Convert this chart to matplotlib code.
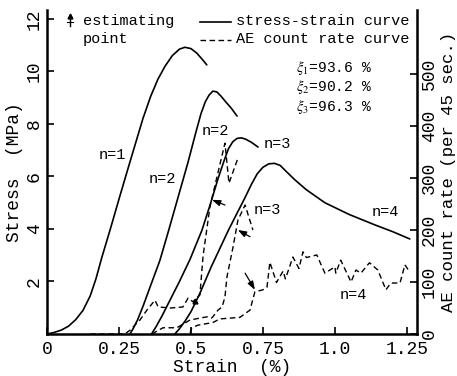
import matplotlib
matplotlib.use("Agg")
import matplotlib.pyplot as plt
from matplotlib.lines import Line2D

plt.rcParams['font.family'] = ['Liberation Mono', 'DejaVu Sans']
plt.rcParams['mathtext.fontset'] = 'stix'

# ---- data (stress-strain curves, left axis: MPa) ----
n1_strain = [0, 0.025, 0.05, 0.075, 0.10, 0.125, 0.15, 0.17, 0.19, 0.22, 0.253, 0.288, 0.333, 0.36, 0.385,
             0.41, 0.435, 0.46, 0.479, 0.50, 0.52, 0.54, 0.555]
n1_stress = [0, 0.06, 0.15, 0.3, 0.55, 0.9, 1.45, 2.1, 2.9, 4.0, 5.25, 6.55, 8.2, 9.05, 9.7,
             10.2, 10.6, 10.85, 10.92, 10.87, 10.7, 10.45, 10.25]

n2_strain = [0.288, 0.30, 0.315, 0.335, 0.36, 0.392, 0.42, 0.455, 0.49, 0.515, 0.535, 0.55, 0.563, 0.576,
             0.59, 0.605, 0.62, 0.64, 0.66]
n2_stress = [0, 0.22, 0.55, 1.1, 1.85, 2.8, 3.85, 5.2, 6.55, 7.6, 8.4, 8.85, 9.1, 9.25,
             9.22, 9.05, 8.85, 8.6, 8.3]

n3_strain = [0.363, 0.38, 0.40, 0.43, 0.46, 0.497, 0.538, 0.566, 0.595, 0.615, 0.63, 0.645, 0.66, 0.675,
             0.69, 0.71, 0.733]
n3_stress = [0, 0.3, 0.7, 1.35, 2.0, 2.85, 3.95, 4.9, 5.95, 6.6, 7.05, 7.32, 7.45, 7.47,
             7.42, 7.3, 7.12]

n4_strain = [0.444, 0.46, 0.48, 0.50, 0.531, 0.57, 0.60, 0.63, 0.66, 0.688, 0.71, 0.73, 0.75, 0.77, 0.79,
             0.81, 0.83, 0.86, 0.90, 0.965, 1.05, 1.14, 1.20, 1.26]
n4_stress = [0, 0.2, 0.5, 0.85, 1.55, 2.55, 3.25, 3.95, 4.6, 5.2, 5.7, 6.1, 6.35, 6.48, 6.5,
             6.42, 6.2, 5.88, 5.5, 5.0, 4.55, 4.15, 3.9, 3.62]

# ---- AE count rate curves (right axis: counts per 45 sec) ----
ae2_strain = [0.15, 0.27, 0.29, 0.31, 0.323, 0.347, 0.375, 0.386, 0.43, 0.472, 0.49, 0.507, 0.531, 0.542, 0.566, 0.618, 0.632, 0.663]
ae2_count = [0, 0, 8, 20, 27, 46, 65, 52, 50, 52, 69, 62, 75, 150, 245, 367, 290, 338]

ae3_strain = [0.365, 0.38, 0.403, 0.451, 0.497, 0.555, 0.573, 0.594, 0.608, 0.618, 0.625, 0.646, 0.663, 0.688, 0.715]
ae3_count = [0, 5, 12, 12, 27, 33, 31, 46, 52, 71, 110, 167, 219, 248, 200]

ae4_strain = [0.497, 0.503, 0.524, 0.576, 0.60, 0.67, 0.705, 0.722, 0.75, 0.764, 0.774, 0.797, 0.82, 0.828, 0.854,
              0.875, 0.889, 0.901, 0.937, 0.965, 1.0, 1.003, 1.02, 1.056, 1.073, 1.09, 1.12, 1.149, 1.177, 1.194,
              1.226, 1.243, 1.26]
ae4_count = [2, 12, 17, 22, 29, 32, 46, 81, 85, 90, 138, 99, 121, 106, 148,
             126, 158, 147, 152, 117, 129, 117, 142, 100, 123, 117, 137, 123, 85, 98,
             98, 133, 119]

# estimating points (strain, AE count) -> arrow tails
est_points = [(0.573, 258), (0.663, 200), (0.722, 85)]
est_tails = [(0.618, 248), (0.705, 187), (0.688, 117)]
marker_point = (0.514, 63)

x_ticks = [0, 0.25, 0.5, 0.75, 1.0, 1.25]
x_ticklabels = ['0', '0.25', '0.5', '0.75', '1.0', '1.25']
y_ticks = [2, 4, 6, 8, 10, 12]
y2_ticks = [0, 100, 200, 300, 400, 500]

xi_texts = [r'$\xi_1$=93.6 %', r'$\xi_2$=90.2 %', r'$\xi_3$=96.3 %']

W, H = 457, 376
fig = plt.figure(figsize=(W / 100, H / 100), dpi=100)
ax = fig.add_axes([47 / W, 1 - 334 / H, (417 - 47) / W, (334 - 10) / H])
ax.set_xlim(0, 1.285)
ax.set_ylim(0, 12.34)
ax2 = ax.twinx()
ax2.set_ylim(0, 623)

lw = 1.2
for xs, ys in [(n1_strain, n1_stress), (n2_strain, n2_stress), (n3_strain, n3_stress), (n4_strain, n4_stress)]:
    ax.plot(xs, ys, color='black', lw=lw, solid_capstyle='round', solid_joinstyle='round')

for xs, ys in [(ae2_strain, ae2_count), (ae3_strain, ae3_count), (ae4_strain, ae4_count)]:
    ax2.plot(xs, ys, color='black', lw=1.0, linestyle=(0, (4, 2.5)))

for tip, tail in zip(est_points, est_tails):
    ax2.annotate('', xy=tip, xytext=tail,
                 arrowprops=dict(arrowstyle='-|>,head_length=0.5,head_width=0.18', color='black', lw=0.9,
                                 shrinkA=0, shrinkB=0))
ax2.plot([marker_point[0]], [marker_point[1]], marker='^', color='black', markersize=3.5)

# spines and ticks
for a in (ax, ax2):
    a.spines['top'].set_visible(False)
    for s in ('left', 'bottom', 'right'):
        a.spines[s].set_linewidth(1.8)
ax.spines['right'].set_visible(False)
ax2.spines['left'].set_visible(False)
ax2.spines['bottom'].set_visible(False)

ax.set_xticks(x_ticks)
ax.set_xticklabels(x_ticklabels)
ax.set_yticks(y_ticks)
ax.tick_params(axis='both', direction='in', length=5, width=1.2, labelsize=13)
ax.tick_params(axis='x', pad=5)
ax.tick_params(axis='y', labelrotation=90, pad=3)
for t in ax.get_yticklabels():
    t.set_va('center')
ax2.set_yticks(y2_ticks)
ax2.tick_params(axis='y', direction='in', length=5, width=1.2, labelsize=13, labelrotation=90, pad=3)
for t in ax2.get_yticklabels():
    t.set_va('center')

ax.set_xlabel('Strain  (%)', fontsize=13, labelpad=1)
ax.set_ylabel('Stress  (MPa)', fontsize=13, labelpad=2)
ax2.set_ylabel('AE count rate (per 45 sec.)', fontsize=12.5, labelpad=2)

# curve labels
fs = 11
ax.text(0.226, 6.82, 'n=1', fontsize=fs, ha='center', va='center')
ax.text(0.399, 5.9, 'n=2', fontsize=fs, ha='center', va='center')
ax.text(0.583, 7.73, 'n=2', fontsize=fs, ha='center', va='center')
ax.text(0.80, 7.24, 'n=3', fontsize=fs, ha='center', va='center')
ax.text(0.767, 4.72, 'n=3', fontsize=fs, ha='center', va='center')
ax.text(1.174, 4.65, 'n=4', fontsize=fs, ha='center', va='center')
ax.text(1.064, 1.49, 'n=4', fontsize=fs, ha='center', va='center')

# legend (manual)
def fx(px):
    return px / W

def fy(py):
    return 1 - py / H

fig.add_artist(Line2D([fx(70), fx(70)], [fy(26), fy(16)], color='black', lw=1.0, transform=fig.transFigure))
fig.add_artist(Line2D([fx(67), fx(73)], [fy(22), fy(22)], color='black', lw=0.8, transform=fig.transFigure))
fig.add_artist(Line2D([fx(70)], [fy(16)], marker='^', markersize=3.5, color='black', transform=fig.transFigure))
fig.text(fx(83), fy(21), 'estimating', fontsize=fs, ha='left', va='center')
fig.text(fx(83), fy(39), 'point', fontsize=fs, ha='left', va='center')
fig.add_artist(Line2D([fx(200), fx(231)], [fy(22), fy(22)], color='black', lw=lw, transform=fig.transFigure))
fig.add_artist(Line2D([fx(200), fx(231)], [fy(40), fy(40)], color='black', lw=1.0, linestyle=(0, (4, 2.5)),
                      transform=fig.transFigure))
fig.text(fx(236), fy(21), 'stress-strain curve', fontsize=fs, ha='left', va='center')
fig.text(fx(236), fy(39), 'AE count rate curve', fontsize=fs, ha='left', va='center')

for i, t in enumerate(xi_texts):
    fig.text(fx(296), fy(68 + 19.5 * i), t, fontsize=10.5, ha='left', va='center')

fig.savefig('out.png', dpi=100)
